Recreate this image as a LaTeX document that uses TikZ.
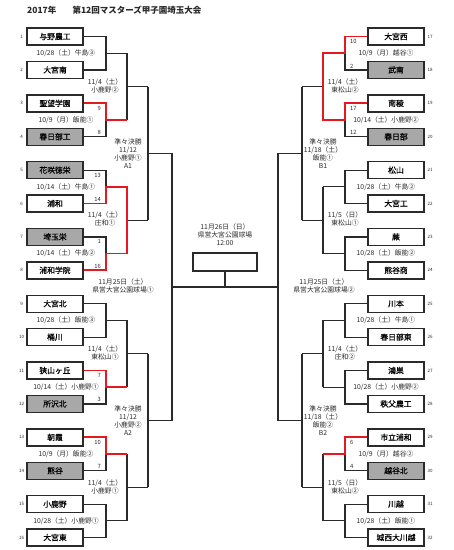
\documentclass[tikz,border=0pt]{standalone}
\usepackage{fontspec}
\setmainfont{Noto Sans CJK JP}
\newfontfamily\gruesa{Noto Sans CJK JP}[FakeBold=0.6]
\usetikzlibrary{positioning,calc}
\definecolor{tinta}{HTML}{2A2A2A}
\definecolor{gris}{HTML}{A8A8A8}
\definecolor{rojo}{HTML}{E5171F}
\newcommand{\filaY}[1]{36.5+33.4*(#1-1)}
\newcommand{\cruceY}[2]{36.5+33.4*(#1-1)+16.7*(#2-1)}

\begin{document}
\begin{tikzpicture}[x=1pt,y=-1pt,
  equipo/.style={draw=tinta,line width=1.4pt,minimum width=56pt,minimum height=17pt,inner sep=0pt,font=\gruesa\fontsize{7.8}{8}\selectfont},
  linea/.style={draw=tinta,line width=1.2pt},
  gana/.style={draw=rojo,line width=1.7pt},
  fecha/.style={font=\fontsize{6.8}{8}\selectfont,align=center,inner sep=0pt,text=tinta},
  tanto/.style={font=\fontsize{5.8}{6}\selectfont,inner sep=0pt,text=tinta},
  numero/.style={font=\fontsize{4.5}{5}\selectfont,inner sep=0pt,text=tinta}]
  \useasboundingbox (0,0) rectangle (454,550);
  \node[font=\fontsize{8.5}{9}\selectfont\bfseries,anchor=west,inner sep=0pt,text=tinta] (titulo) at (27,10) {2017年\hspace{1.9em}第12回マスターズ甲子園埼玉大会};
  % equipos
  \foreach \i/\n/\f in {1/与野農工/white,2/大宮南/white,3/聖望学園/white,4/春日部工/gris,
      5/花咲徳栄/gris,6/浦和/white,7/埼玉栄/gris,8/浦和学院/white,
      9/大宮北/white,10/桶川/white,11/狭山ヶ丘/white,12/所沢北/gris,
      13/朝霞/white,14/熊谷/gris,15/小鹿野/white,16/大宮東/white}
  {
    \node[equipo,fill=\f] (t\i) at (55,{\filaY{\i}}) {\n};
    \node[numero] (n\i) at (21.5,{\filaY{\i}}) {\i};
  }
  \foreach \i/\n/\f in {17/大宮西/white,18/武南/gris,19/南稜/white,20/春日部/gris,
      21/松山/white,22/大宮工/white,23/蕨/white,24/熊谷商/white,
      25/川本/white,26/春日部東/white,27/鴻巣/white,28/秩父農工/white,
      29/市立浦和/white,30/越谷北/gris,31/川越/white,32/城西大川越/white}
  {
    \node[equipo,fill=\f] (t\i) at (396,{\filaY{\i-16}}) {\n};
    \node[numero] (n\i) at (430,{\filaY{\i-16}}) {\i};
  }
  % primera ronda
  \foreach \k in {1,...,8} {
    \pgfmathtruncatemacro\a{2*\k-1}
    \pgfmathtruncatemacro\b{2*\k}
    \coordinate (pa\k) at (106,{\cruceY{\a}{2}});
    \coordinate (qa\k) at (127,{\cruceY{\a}{2}});
    \coordinate (pb\k) at (345,{\cruceY{\a}{2}});
    \coordinate (qb\k) at (323,{\cruceY{\a}{2}});
    \pgfmathtruncatemacro\c{\a+16}
    \pgfmathtruncatemacro\d{\b+16}
    \draw[linea] (t\a.east) -| (pa\k) |- (t\b.east) (pa\k) -- (qa\k);
    \draw[linea] (t\c.west) -| (pb\k) |- (t\d.west) (pb\k) -- (qb\k);
  }
  % segunda ronda
  \foreach \j in {1,...,4} {
    \pgfmathtruncatemacro\a{2*\j-1}
    \pgfmathtruncatemacro\b{2*\j}
    \pgfmathtruncatemacro\c{4*\j-3}
    \coordinate (ra\j) at (148,{\cruceY{\c}{4}});
    \coordinate (rb\j) at (302,{\cruceY{\c}{4}});
    \draw[linea] (qa\a) -- (qa\b) (qa\a |- ra\j) -- (ra\j);
    \draw[linea] (qb\a) -- (qb\b) (qb\a |- rb\j) -- (rb\j);
  }
  % cuartos
  \foreach \i in {1,2} {
    \pgfmathtruncatemacro\a{2*\i-1}
    \pgfmathtruncatemacro\b{2*\i}
    \pgfmathtruncatemacro\c{8*\i-7}
    \coordinate (sa\i) at (172,{\cruceY{\c}{8}});
    \coordinate (sb\i) at (278,{\cruceY{\c}{8}});
    \draw[linea] (ra\a) -- (ra\b) (ra\a |- sa\i) -- (sa\i);
    \draw[linea] (rb\a) -- (rb\b) (rb\a |- sb\i) -- (sb\i);
  }
  % final
  \node[draw=tinta,line width=1.4pt,minimum width=64pt,minimum height=18pt,inner sep=0pt] (final) at (225,262) {};
  \coordinate (centro) at (225,{\cruceY{1}{16}});
  \draw[linea] (sa1) -- (sa2) (sb1) -- (sb2) (sa1 |- centro) -- (sb1 |- centro) (final.south) -- (centro);
  % ganadores
  \draw[gana] (t3.east) -| (pa2) -- (qa2);
  \draw[gana] (t6.east) -| (pa3) -- (qa3) -- (qa4) -- (pa4) |- (t8.east);
  \draw[gana] (t11.east) -| (pa6) -- (qa6);
  \draw[gana] (t13.east) -| (pa7) -- (qa7);
  \draw[gana] (t17.west) -| (pb1) -- (qb1) -- (qb2) -- (pb2) |- (t19.west);
  \draw[gana] (t29.west) -| (pb7) -- (qb7);
  % tanteos
  \foreach \i/\t/\d in {3/9/5,4/8/-4,5/13/5,6/14/-4,7/1/5,8/16/-4,11/7/5,12/3/-4,13/10/5,14/7/-4}
    \node[tanto,anchor=east] (s\i) at (101,{\filaY{\i}+\d}) {\t};
  \foreach \i/\t/\d in {17/10/5,18/2/-4,19/17/5,20/12/-4,29/6/5,30/4/-4}
    \node[tanto,anchor=west] (s\i) at (350,{\filaY{\i-16}+\d}) {\t};
  % fechas primera ronda
  \foreach \k/\t in {1/{10/28（土）牛島③},2/{10/9（月）飯能①},3/{10/14（土）牛島①},4/{10/14（土）牛島②},
      5/{10/28（土）飯能③},6/{10/14（土）小鹿野①},7/{10/9（月）飯能②},8/{10/28（土）小鹿野①}}
  {
    \pgfmathtruncatemacro\a{2*\k-1}
    \node[fecha] (fa\k) at (66,{\cruceY{\a}{2}}) {\t};
  }
  \foreach \k/\t in {1/{10/9（月）越谷①},2/{10/14（土）小鹿野②},3/{10/28（土）牛島②},4/{10/28（土）飯能②},
      5/{10/28（土）牛島①},6/{10/28（土）小鹿野②},7/{10/9（月）越谷②},8/{10/28（土）飯能①}}
  {
    \pgfmathtruncatemacro\a{2*\k-1}
    \node[fecha] (fb\k) at (386,{\cruceY{\a}{2}}) {\t};
  }
  % fechas segunda ronda
  \foreach \j/\t/\u in {1/{11/4（土）\\小鹿野②}/{11/4（土）\\東松山②},2/{11/4（土）\\庄和①}/{11/5（日）\\東松山①},
      3/{11/4（土）\\東松山①}/{11/4（土）\\庄和②},4/{11/4（土）\\小鹿野①}/{11/5（日）\\東松山②}}
  {
    \pgfmathtruncatemacro\c{4*\j-3}
    \node[fecha] (ga\j) at (105,{\cruceY{\c}{4}-1}) {\t};
    \node[fecha] (gb\j) at (345,{\cruceY{\c}{4}-1}) {\u};
  }
  % cuartos y semifinal
  \node[fecha] (ha1) at (128,{\cruceY{1}{8}}) {準々決勝\\11/12\\小鹿野①\\A1};
  \node[fecha] (ha2) at (128,{\cruceY{9}{8}}) {準々決勝\\11/12\\小鹿野②\\A2};
  \node[fecha] (hb1) at (323,{\cruceY{1}{8}}) {準々決勝\\11/18（土）\\飯能①\\B1};
  \node[fecha] (hb2) at (323,{\cruceY{9}{8}}) {準々決勝\\11/18（土）\\飯能②\\B2};
  \node[fecha] (ia) at (123,286) {11月25日（土）\\県営大宮公園球場①};
  \node[fecha] (ib) at (324,286) {11月25日（土）\\県営大宮公園球場②};
  \node[fecha] (ifin) at (225,235) {11月26日（日）\\県営大宮公園球場\\12:00};
\end{tikzpicture}
\end{document}
